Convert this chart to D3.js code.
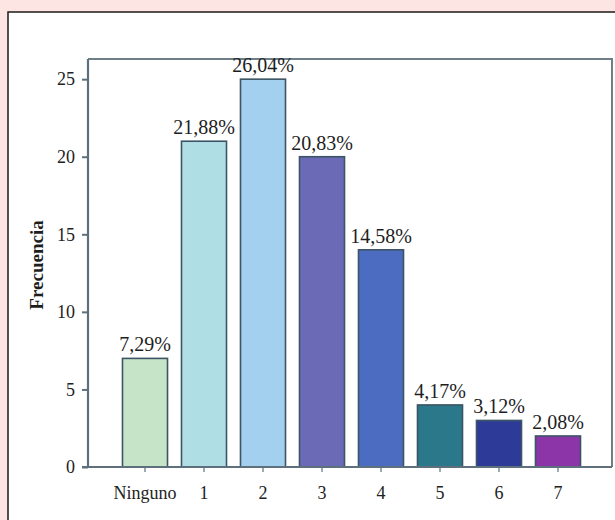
<!DOCTYPE html>
<html>
<head>
<meta charset="utf-8">
<script src="https://cdn.jsdelivr.net/npm/d3@7"></script>
<style>
  html, body { margin: 0; padding: 0; background: #fce5e3; }
  svg { display: block; }
</style>
</head>
<body>
<svg id="chart" width="615" height="520"></svg>
<script>
// Número de respuestas por categoría
const categories = ["Ninguno", "1", "2", "3", "4", "5", "6", "7"];
const counts = [7, 21, 25, 20, 14, 4, 3, 2];
const percentLabels = ["7,29%", "21,88%", "26,04%", "20,83%", "14,58%", "4,17%", "3,12%", "2,08%"];
const barColors = ["#c6e4c8", "#afdfe5", "#a2d0ee", "#6a6ab6", "#4b6cc1", "#2a7889", "#2e3a98", "#8b35a8"];
const yTicks = [0, 5, 10, 15, 20, 25];

const svg = d3.select("#chart");
const serif = "'Liberation Serif', 'DejaVu Serif', serif";

// White card with dark border
svg.append("rect")
  .attr("x", 8).attr("y", 12)
  .attr("width", 620).attr("height", 520)
  .attr("fill", "#ffffff")
  .attr("stroke", "#1a1a1a").attr("stroke-width", 1.5);

const plot = { left: 88, right: 612, top: 59, bottom: 467 };

const x = d3.scaleBand()
  .domain(categories)
  .range([115.5, 587.5])
  .paddingInner(0.237)
  .paddingOuter(0.1185);

const y = d3.scaleLinear()
  .domain([0, 26.3])
  .range([plot.bottom, plot.top]);

// Frame: top and right edges
svg.append("path")
  .attr("d", `M${plot.left},${plot.top}H${plot.right}V${plot.bottom}`)
  .attr("fill", "none")
  .attr("stroke", "#6f7f88").attr("stroke-width", 2);

// Bars
svg.append("g").selectAll("rect")
  .data(categories)
  .join("rect")
  .attr("x", d => x(d))
  .attr("y", (d, i) => y(counts[i]))
  .attr("width", x.bandwidth())
  .attr("height", (d, i) => y(0) - y(counts[i]))
  .attr("fill", (d, i) => barColors[i])
  .attr("stroke", "#3c5564").attr("stroke-width", 1.6);

// Percentage labels above the bars
svg.append("g").selectAll("text")
  .data(categories)
  .join("text")
  .attr("x", d => x(d) + x.bandwidth() / 2)
  .attr("y", (d, i) => y(counts[i]) - 7)
  .attr("text-anchor", "middle")
  .attr("font-family", serif)
  .attr("font-size", 20)
  .attr("fill", "#1e1e1e")
  .text((d, i) => percentLabels[i]);

// Y axis
const yAxis = svg.append("g")
  .attr("transform", `translate(${plot.left},0)`)
  .call(d3.axisLeft(y).tickValues(yTicks).tickSize(6).tickPadding(7).tickFormat(d3.format("d")));
yAxis.select(".domain").remove();
yAxis.selectAll(".tick line").attr("stroke", "#5d707b").attr("stroke-width", 2);
yAxis.selectAll(".tick text")
  .attr("font-family", serif).attr("font-size", 18).attr("fill", "#222");
svg.append("line")
  .attr("x1", plot.left).attr("x2", plot.left)
  .attr("y1", plot.top).attr("y2", plot.bottom)
  .attr("stroke", "#5d707b").attr("stroke-width", 2.2);

// X axis
const xAxis = svg.append("g")
  .attr("transform", `translate(0,${plot.bottom})`)
  .call(d3.axisBottom(x).tickSize(5).tickPadding(14));
xAxis.select(".domain").remove();
xAxis.selectAll(".tick line").attr("stroke", "#7d8f99").attr("stroke-width", 1.5);
xAxis.selectAll(".tick text")
  .attr("font-family", serif).attr("font-size", 18).attr("fill", "#222");
svg.append("line")
  .attr("x1", plot.left - 6).attr("x2", plot.right)
  .attr("y1", plot.bottom).attr("y2", plot.bottom)
  .attr("stroke", "#5d707b").attr("stroke-width", 2.2);

// Y axis title
svg.append("text")
  .attr("transform", "translate(43,265) rotate(-90)")
  .attr("text-anchor", "middle")
  .attr("font-family", serif)
  .attr("font-weight", "bold")
  .attr("font-size", 19)
  .attr("fill", "#1e1e1e")
  .text("Frecuencia");
</script>
</body>
</html>
